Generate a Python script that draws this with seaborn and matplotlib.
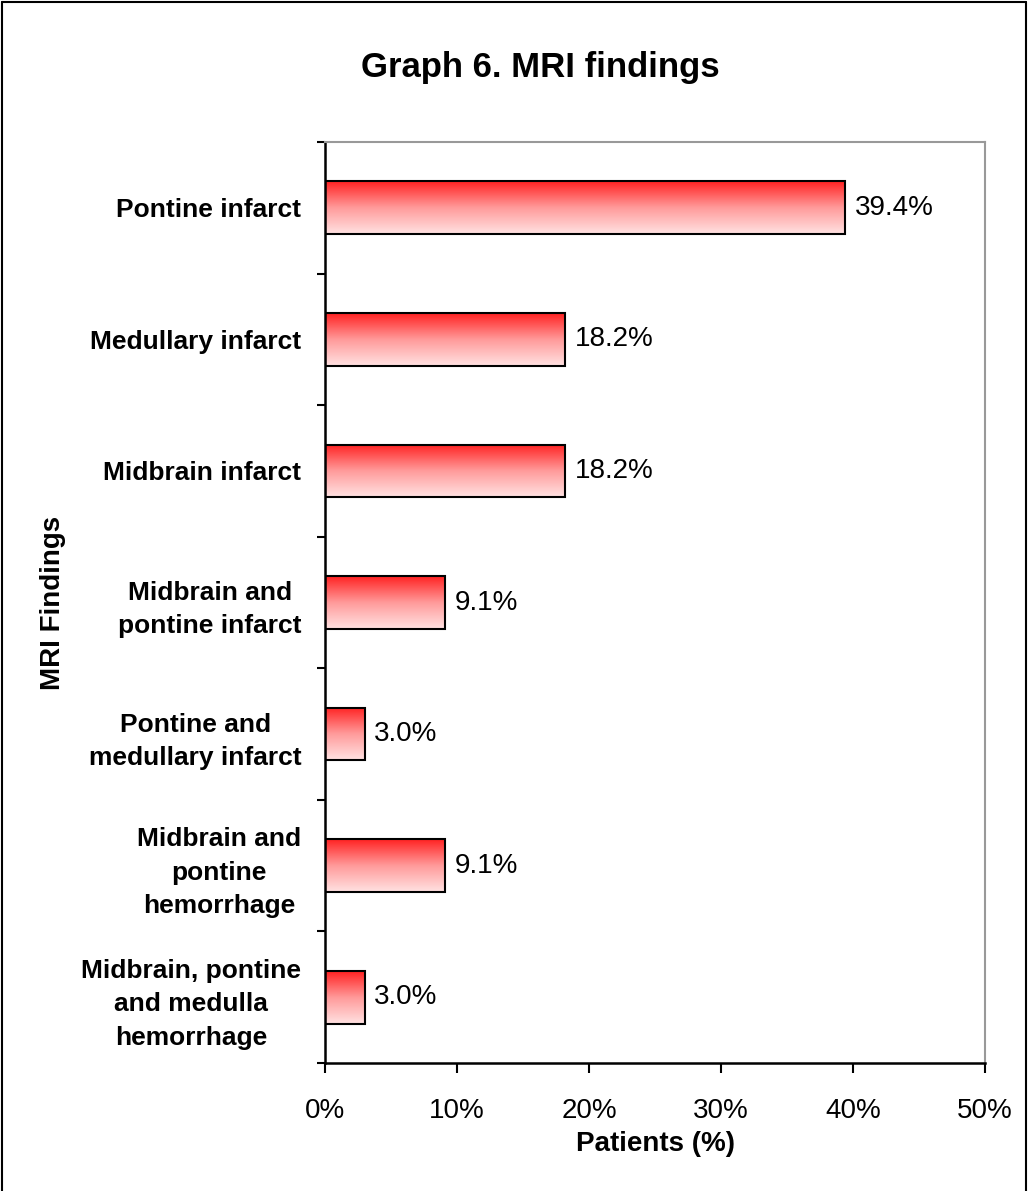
import numpy as np
import pandas as pd
import matplotlib
matplotlib.use("Agg")
import matplotlib.pyplot as plt
from matplotlib.colors import LinearSegmentedColormap
from matplotlib.ticker import FixedLocator, PercentFormatter
import seaborn as sns

categories = [
    "Pontine infarct",
    "Medullary infarct",
    "Midbrain infarct",
    "Midbrain and\npontine infarct",
    "Pontine and\nmedullary infarct",
    "Midbrain and\npontine\nhemorrhage",
    "Midbrain, pontine\nand medulla\nhemorrhage",
]
values = [39.4, 18.2, 18.2, 9.1, 3.0, 9.1, 3.0]
x_ticks = [0, 10, 20, 30, 40, 50]

df = pd.DataFrame({"finding": categories, "pct": values})

sns.set_theme(style="white")
plt.rcParams["font.family"] = ["Liberation Sans", "DejaVu Sans"]
plt.rcParams["text.color"] = "black"
plt.rcParams["axes.labelcolor"] = "black"
plt.rcParams["xtick.color"] = "black"
plt.rcParams["ytick.color"] = "black"

fig = plt.figure(figsize=(10.28, 11.91), dpi=100)
ax = fig.add_axes([325 / 1028, 1 - 1063 / 1191, 660 / 1028, 921 / 1191])

sns.barplot(data=df, x="pct", y="finding", orient="h", ax=ax, width=0.4,
            color="white", edgecolor="black", linewidth=1.5, zorder=3)

cmap = LinearSegmentedColormap.from_list("redgrad", ["#ff2222", "#ff9a9a", "#ffe2e2"])
grad = np.linspace(0, 1, 256).reshape(-1, 1)
for p in ax.patches:
    x0, y0 = p.get_x(), p.get_y()
    w, h = p.get_width(), p.get_height()
    im = ax.imshow(grad, cmap=cmap, aspect="auto",
                   extent=[x0, x0 + w, y0 + h, y0], origin="upper", zorder=2.5)
    im.set_clip_path(p)
    p.set_facecolor("none")

ax.bar_label(ax.containers[0], labels=[f"{v:.1f}%" for v in values],
             padding=7, fontsize=20, color="black")

ax.set_xlim(0, 50)
ax.set_ylim(len(categories) - 0.5, -0.5)
ax.xaxis.set_major_locator(FixedLocator(x_ticks))
ax.xaxis.set_major_formatter(PercentFormatter(decimals=0))
ax.tick_params(axis="x", which="major", direction="out", length=7, width=1.5,
               labelsize=20, pad=18, bottom=True, color="black", labelcolor="black")

ax.set_yticks(range(len(categories)))
ax.set_yticklabels(categories, fontsize=19, fontweight="bold",
                   multialignment="center", color="black", linespacing=1.5)
ax.tick_params(axis="y", which="major", length=0, pad=17)
ax.yaxis.set_minor_locator(FixedLocator(np.arange(-0.5, len(categories), 1.0)))
ax.tick_params(axis="y", which="minor", direction="out", length=6, width=1.5,
               left=True, color="black")

ax.set_xlabel("Patients (%)", fontsize=20, fontweight="bold", labelpad=5,
              color="black")
ax.set_ylabel("MRI Findings", fontsize=20, fontweight="bold", color="black")
ax.yaxis.set_label_coords(-0.393, 0.5)

for s in ["left", "bottom"]:
    ax.spines[s].set_color("black")
    ax.spines[s].set_linewidth(1.8)
for s in ["top", "right"]:
    ax.spines[s].set_color("#999999")
    ax.spines[s].set_linewidth(1.5)
ax.grid(False)

fig.text(540 / 1028, 1 - 68 / 1191, "Graph 6. MRI findings", ha="center",
         va="center", fontsize=25, fontweight="bold", color="black")

# outer frame
fig.add_artist(plt.Line2D([0.002, 0.002], [0, 0.9985], transform=fig.transFigure,
                          color="black", lw=1.5))
fig.add_artist(plt.Line2D([0.998, 0.998], [0, 0.9985], transform=fig.transFigure,
                          color="black", lw=1.5))
fig.add_artist(plt.Line2D([0.002, 0.998], [0.9985, 0.9985], transform=fig.transFigure,
                          color="black", lw=1.5))

fig.savefig("out.png", dpi=100, facecolor="white")
